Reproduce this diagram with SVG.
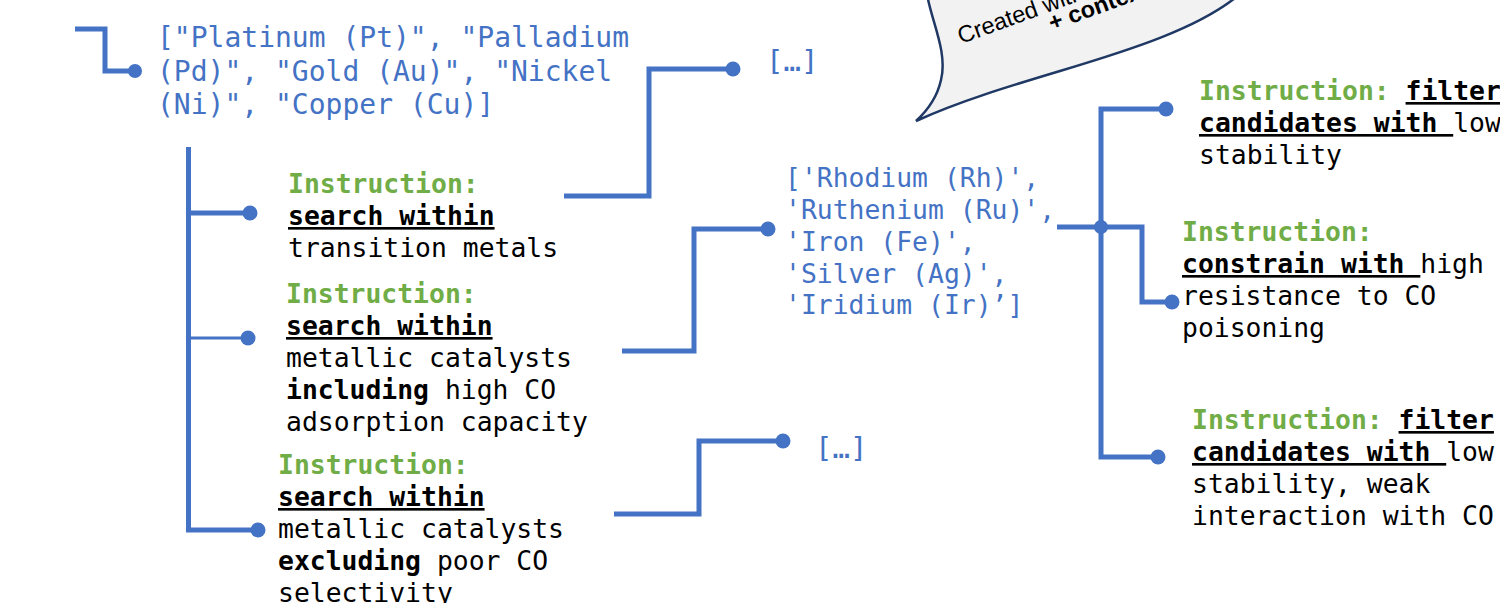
<svg xmlns="http://www.w3.org/2000/svg" width="1500" height="603" viewBox="0 0 1500 603">
<style>
.mono{font-family:"DejaVu Sans Mono","Liberation Mono",monospace;}
.blue{fill:#4472C4;}
.t{font-size:26.4px;fill:#000;}
.big{font-size:28px;}
.mid{font-size:26.4px;}
.ell{font-size:29px;}
.g{fill:#70AD47;font-weight:bold;}
.b{font-weight:bold;}
.u{font-weight:bold;text-decoration:underline;}
.wire{fill:none;stroke:#4472C4;stroke-width:5;stroke-linejoin:miter;}
.thin{stroke-width:3;}
.dot{fill:#4472C4;}
.bub{font-family:"Liberation Sans",Arial,sans-serif;font-size:23.5px;fill:#000;}
</style>
<rect width="1500" height="603" fill="#fff"/>

<g id="callout">
<path d="M927,-6 C931,20 948,52 941,80 C937,98 928,110 916,121 C960,101 1010,86 1060,71 C1130,50 1200,28 1240,-6 Z" fill="#F2F2F2" stroke="#1F3864" stroke-width="2.5"/>
<text class="bub" transform="translate(961,44) rotate(-20)">Created with</text>
<text class="bub b" transform="translate(1052,31) rotate(-20)">+ context</text>
</g>

<g id="connectors">
<path class="wire" d="M75,29 H105 V71 H135"/>
<circle class="dot" cx="135" cy="71" r="7"/>
<path class="wire" d="M188.5,147 V530 H258"/>
<path class="wire" d="M188,213 H250"/>
<path class="wire thin" d="M188,338 H248"/>
<circle class="dot" cx="250" cy="213" r="7.5"/>
<circle class="dot" cx="248" cy="338" r="7.5"/>
<circle class="dot" cx="258" cy="530" r="7.5"/>
<path class="wire" d="M564,196 H649 V69 H733"/>
<circle class="dot" cx="733" cy="69" r="7.5"/>
<path class="wire" d="M622,351 H694 V229 H768"/>
<circle class="dot" cx="768" cy="229" r="7.5"/>
<path class="wire" d="M614,514 H699 V441 H783"/>
<circle class="dot" cx="783" cy="441" r="7.5"/>
<path class="wire" d="M1057,227 H1142 V302 H1172"/>
<path class="wire" d="M1166,109 H1101 V457 H1158"/>
<circle class="dot" cx="1101" cy="227" r="7"/>
<circle class="dot" cx="1166" cy="109" r="7.5"/>
<circle class="dot" cx="1172" cy="302" r="7.5"/>
<circle class="dot" cx="1158" cy="457" r="7.5"/>
</g>

<g id="root-list">
<text class="mono blue big" x="157" y="47">["Platinum (Pt)", "Palladium</text>
<text class="mono blue big" x="157" y="81">(Pd)", "Gold (Au)", "Nickel</text>
<text class="mono blue big" x="157" y="114">(Ni)", "Copper (Cu)]</text>
</g>

<g id="instr-transition">
<text class="mono t" x="288" y="193"><tspan class="g">Instruction:</tspan></text>
<text class="mono t" x="288" y="225"><tspan class="u">search within</tspan></text>
<text class="mono t" x="288" y="257">transition metals</text>
</g>

<g id="instr-including">
<text class="mono t" x="286" y="303"><tspan class="g">Instruction:</tspan></text>
<text class="mono t" x="286" y="335"><tspan class="u">search within</tspan></text>
<text class="mono t" x="286" y="367">metallic catalysts</text>
<text class="mono t" x="286" y="399"><tspan class="b">including</tspan> high CO</text>
<text class="mono t" x="286" y="431">adsorption capacity</text>
</g>

<g id="instr-excluding">
<text class="mono t" x="278" y="474"><tspan class="g">Instruction:</tspan></text>
<text class="mono t" x="278" y="506"><tspan class="u">search within</tspan></text>
<text class="mono t" x="278" y="538">metallic catalysts</text>
<text class="mono t" x="278" y="570"><tspan class="b">excluding</tspan> poor CO</text>
<text class="mono t" x="278" y="602">selectivity</text>
</g>

<g id="result-1">
<text class="mono blue ell" x="766" y="71">[…]</text>
</g>

<g id="result-2">
<text class="mono blue mid" x="785" y="187">['Rhodium (Rh)',</text>
<text class="mono blue mid" x="785" y="219">'Ruthenium (Ru)',</text>
<text class="mono blue mid" x="785" y="251">'Iron (Fe)',</text>
<text class="mono blue mid" x="785" y="283">'Silver (Ag)',</text>
<text class="mono blue mid" x="785" y="314">'Iridium (Ir)’]</text>
</g>

<g id="result-3">
<text class="mono blue ell" x="815" y="458">[…]</text>
</g>

<g id="instr-filter-1">
<text class="mono t" x="1199" y="100"><tspan class="g">Instruction: </tspan><tspan class="u">filter</tspan></text>
<text class="mono t" x="1199" y="132"><tspan class="u">candidates with </tspan>low</text>
<text class="mono t" x="1199" y="164">stability</text>
</g>

<g id="instr-constrain">
<text class="mono t" x="1182" y="241"><tspan class="g">Instruction:</tspan></text>
<text class="mono t" x="1182" y="273"><tspan class="u">constrain with </tspan>high</text>
<text class="mono t" x="1182" y="305">resistance to CO</text>
<text class="mono t" x="1182" y="337">poisoning</text>
</g>

<g id="instr-filter-2">
<text class="mono t" x="1192" y="429"><tspan class="g">Instruction: </tspan><tspan class="u">filter</tspan></text>
<text class="mono t" x="1192" y="461"><tspan class="u">candidates with </tspan>low</text>
<text class="mono t" x="1192" y="493">stability, weak</text>
<text class="mono t" x="1192" y="525">interaction with CO</text>
</g>
</svg>
